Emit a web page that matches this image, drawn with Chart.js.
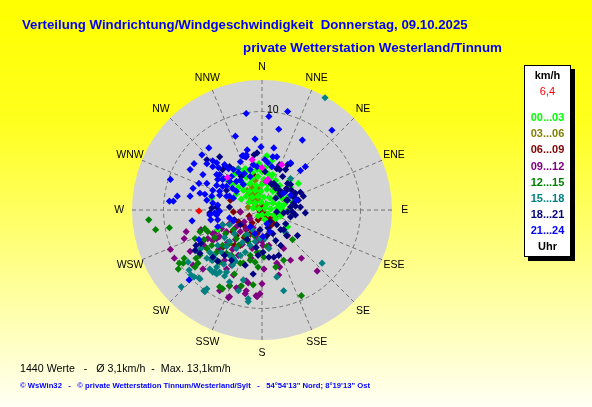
<!DOCTYPE html>
<html><head><meta charset="utf-8">
<script src="https://cdn.jsdelivr.net/npm/chart.js@4.4.1/dist/chart.umd.min.js"></script>
<style>html,body{margin:0;padding:0;background:#ffff00;overflow:hidden}canvas{display:block}</style>
</head><body>
<canvas id="c" width="592" height="407"></canvas>
<script>
// ---------- data ----------
const directions = ['N','NNE','NE','ENE','E','ESE','SE','SSE','S','SSW','SW','WSW','W','WNW','NW','NNW'];
const ringTicks = [10];
const scaleMax = 13.2;          // km/h at the outer circle
const timeBins = ['00...03','03...06','06...09','09...12','12...15','15...18','18...21','21...24'];
const currentSpeedLabel = '6,4';
const titleLine1 = 'Verteilung Windrichtung/Windgeschwindigkeit  Donnerstag, 09.10.2025';
const titleLine2 = 'private Wetterstation Westerland/Tinnum';
const statsLine = '1440 Werte   -   \u00D8 3,1km/h  -  Max. 13,1km/h';
const footerLine = '\u00A9 WsWin32   -   \u00A9 private Wetterstation Tinnum/Westerland/Sylt   -   54\u00B054\'13" Nord; 8\u00B019\'13" Ost';

// wind vectors [east, north] in km/h, per 3-hour bin
const s0003 = [[0.5,5.5],[0.4,5.4],[0.3,4.3],[-1.7,4.2],[-1.9,3.9],[-2.2,3.0],[-3.6,3.1],[-5.1,1.2],[2.0,0.2],[2.7,0.0],[3.7,2.7],[1.7,-0.2],[1.4,-0.9],[2.6,-1.7],[-4.5,-2.0],
[-1.5,4.0],[-1.0,3.8],[-0.5,4.1],[0.0,3.9],[0.6,3.7],[1.1,3.6],[-1.6,3.3],[-1.0,3.2],[-0.4,3.4],[0.2,3.1],[0.8,3.2],[1.4,3.0],[-1.8,2.6],[-1.2,2.7],[-0.6,2.5],[0.0,2.6],[0.6,2.6],[1.2,2.4],[1.8,2.5],[-1.9,2.0],[-1.3,1.9],[-0.7,2.0],[-0.1,1.9],[0.5,2.1],[1.1,1.9],[1.7,1.8],[2.3,1.9],[-1.6,1.4],[-1.0,1.3],[-0.4,1.4],[0.2,1.3],[0.8,1.2],[1.4,1.3],[2.0,1.2],[2.6,1.3],[-1.3,0.8],[-0.7,0.7],[-0.1,0.8],[0.5,0.6],[1.1,0.7],[1.7,0.6],[2.3,0.6],[-0.9,0.2],[-0.3,0.1],[0.3,0.2],[0.9,0.1],[1.5,0.2],[0.0,-0.5],[0.6,-0.4],[1.2,-0.5],[-0.4,-0.6],[1.9,-0.6],[-2.4,2.3],[-2.6,1.6],[-2.8,3.6],[2.8,3.0],[0.9,4.4],[-0.3,4.7],[3.1,0.8],[2.9,2.3],[-2.1,1.1],[0.3,-1.0],[-3.0,2.6],[1.0,5.0],[-0.8,4.6]];
const s0306 = [[-0.9,1.4],[-1.2,2.6],[-1.0,2.2],[-0.8,1.8],[-0.6,2.4],[-0.4,1.6],[-1.3,1.6],[-0.5,1.1],[-0.2,0.9],[-0.9,0.8],[0.0,0.5],[-0.6,0.4],[0.2,-0.2],[-1.5,2.0],[-0.3,2.1],[0.1,2.8],[-0.7,3.0],[-1.1,1.1],[-0.4,0.1],[-1.4,0.3]];
const s0609 = [[-0.9,3.6],[-2.9,-0.2],[-2.2,-0.2],[-0.2,-0.2],[-0.4,-1.0],[1.3,-0.7],[1.2,-1.2],[-2.4,-1.2],[-1.6,-2.0],[-3.2,1.0],[-2.2,-3.6],[0.8,-0.9],[0.3,-0.5],[-3.4,-3.4],[-2.8,-3.6],[-1.0,-1.3],[-0.5,-2.4],[-1.8,-2.8],[-2.6,-2.6],[0.9,-1.6],[-1.3,-0.6],[0.0,0.2],[0.5,-1.0],[-0.3,-0.8],[-1.9,-1.5],[-3.0,-2.2],[-1.2,-2.4],[-4.1,-3.9]];
const s0912 = [[-7.7,-2.2],[-9.3,-4.0],[-8.9,-4.9],[-7.3,-4.2],[-7.0,-5.6],[-6.0,-6.0],[-6.2,-2.0],[-5.0,-3.1],[-4.6,-2.9],[-4.1,-1.9],[-3.6,-2.2],[-4.6,-2.2],[-3.3,-7.7],[-2.2,-7.8],[-1.6,-7.2],[-2.2,-0.2],[-1.7,-8.5],[-0.6,-8.7],[-3.1,-5.6],[-3.8,-5.1],[-1.2,-0.9],[0.0,-3.2],[-0.5,-2.9],[-1.1,-4.9],[-7.9,-2.9],[4.0,-4.9],[5.6,-6.2],[2.9,-5.1],[1.8,-5.8],[1.7,-6.6],[1.5,-5.4],[0.2,-6.0],[-0.5,-8.8],[-3.4,-8.9],[2.6,-2.6],[2.2,-3.9],[0.7,-3.6],[-6.0,-3.2],[-5.5,-2.9],[-5.0,-2.4],[-4.3,-2.7],[-4.0,-1.5],[-3.3,-1.4],[-2.2,-2.2],[-1.6,-1.9],[-0.5,-3.2],[0.1,-3.6],[-3.6,-6.0],[-2.9,-6.6],[-1.4,-7.4],[-0.2,-8.5],[-2.6,-7.9],[-4.3,-8.2],[-3.3,-8.8],[-1.6,-8.2],[0.0,-7.5],[-5.8,-3.7],[-2.7,-3.0],[-2.0,-3.5],[-1.5,-2.6],[-3.0,-4.0],[-2.4,-4.6],[-1.8,-1.2],[-2.6,-1.7],[-3.5,-3.3],[-0.9,-1.8],[-4.4,-4.0],[-1.0,-3.9]];
const s1215 = [[-11.5,-1.0],[-10.8,-2.0],[-9.4,-1.8],[-8.5,-6.0],[-8.0,-5.4],[-7.9,-4.9],[-8.4,-5.4],[-6.7,-4.9],[-6.8,-5.8],[-6.5,-5.4],[-6.3,-4.6],[-6.3,-2.2],[-5.8,-1.9],[-5.5,-2.2],[-6.8,-2.9],[-5.6,-3.9],[-5.1,-3.6],[-4.3,-7.8],[-4.0,-8.0],[-3.3,-7.7],[-2.8,-6.5],[-0.9,-7.6],[-0.5,-4.3],[-0.2,-4.4],[-2.2,-5.4],[-4.6,-4.3],[-4.0,-3.6],[-4.3,-5.3],[-5.0,-5.1],[-3.3,-3.4],[-2.6,-2.9],[-1.7,-2.6],[-3.1,-4.6],[-1.2,-4.6],[-0.7,-5.3],[3.1,-3.0],[4.0,-8.7],[0.5,-3.7],[1.4,-5.8],[2.2,-5.1],[0.2,-4.8],[-2.1,-7.7],[-1.9,-5.4],[-1.2,-5.1],[-0.4,-5.8],[-3.7,-2.4],[-2.9,-2.0],[-4.8,-2.8],[-5.9,-3.0],[-3.6,-4.4],[-2.4,-3.6],[-1.4,-3.2],[-0.8,-2.6]];
const s1518 = [[-8.2,-7.8],[-7.2,-6.6],[-7.4,-6.1],[-6.3,-7.0],[-5.8,-8.3],[-5.3,-6.0],[-5.0,-6.3],[-4.6,-6.5],[-4.3,-6.3],[-3.8,-6.7],[-3.6,-6.3],[-5.6,-4.9],[-5.1,-5.1],[-4.6,-5.1],[-5.3,-4.3],[-7.5,-5.3],[-6.7,-4.1],[-6.2,-3.9],[-1.9,-7.1],[-1.4,-9.3],[-1.4,-9.0],[-3.3,-3.2],[-3.6,-3.7],[-4.1,-4.3],[-3.3,-4.6],[-2.6,-3.9],[-2.9,-4.9],[-2.2,-4.6],[-1.7,-4.3],[-1.2,-3.6],[-0.7,-3.2],[-0.2,-2.9],[-4.0,-1.5],[-3.3,-1.5],[6.1,-5.4],[2.2,-8.2],[-5.9,-8.2],[1.5,-6.8],[0.3,-2.9],[0.7,-3.9],[2.4,-2.3],[6.4,11.4],[2.9,3.2],[-2.4,4.2],[-5.6,-8.0],[-6.9,-6.8],[-6.4,-6.9],[-3.3,-7.3],[-2.4,-8.2],[-4.8,-6.3],[-4.6,-5.8],[-3.9,-5.5],[-2.7,-5.2],[-2.0,-3.3],[-1.5,-2.5],[-1.0,-2.0],[-4.5,-3.6],[-3.8,-2.8],[-2.8,-2.4],[-4.9,-4.6],[-3.0,-5.6]];
const s1821 = [[2.1,3.4],[2.6,2.7],[2.9,2.6],[3.4,1.7],[3.9,1.8],[3.1,1.4],[3.4,1.2],[2.4,1.9],[1.9,1.5],[3.4,0.4],[2.6,1.0],[1.4,2.2],[1.0,2.6],[0.7,2.9],[1.4,1.2],[0.3,3.9],[-0.5,5.8],[-1.6,5.4],[2.9,4.7],[2.4,4.1],[1.8,4.1],[1.5,4.2],[-3.3,4.4],[-4.0,4.1],[-2.1,3.4],[1.2,2.7],[1.5,2.4],[1.8,2.0],[2.5,2.2],[3.0,2.0],[4.2,1.4],[1.8,4.6],[2.6,4.6],[1.8,1.7],[2.5,1.0],[3.2,0.7],[3.9,0.3],[4.4,-0.3],[1.5,-0.2],[2.2,-0.3],[2.9,-0.7],[0.8,-1.2],[1.5,-1.5],[2.2,-2.0],[2.5,-2.6],[-0.2,-2.0],[0.5,-2.6],[-2.8,-1.0],[-2.2,-1.5],[-4.6,0.3],[-5.3,-0.3],[-3.3,0.3],[-3.6,2.0],[-5.6,5.1],[-4.3,5.4],[2.6,-0.2],[3.1,-0.2],[3.4,-0.5],[3.6,-2.6],[2.4,-1.4],[1.9,-2.0],[0.7,-4.8],[1.2,-4.8],[1.7,-4.6],[1.4,-3.1],[1.9,-3.6],[-5.1,0.2],[-4.4,-0.2],[-6.8,-4.1],[-6.3,-4.4],[-5.0,-4.8],[-4.5,-5.2],[-3.8,-4.6],[-3.1,-5.1],[-0.9,-6.5],[-1.7,-5.6],[-0.4,-4.6],[0.1,-4.3],[-6.7,-3.6],[-6.2,-3.4],[-1.9,5.5],[-0.8,5.6],[-3.7,4.4],[3.7,1.0],[2.9,0.3],[0.6,-1.8],[1.1,-2.4],[-1.5,-3.0],[-0.6,-3.8]];
const s2124 = [[-1.6,9.8],[2.6,10.0],[0.7,9.5],[1.7,8.2],[7.1,8.1],[4.1,7.1],[-0.7,7.2],[-2.7,7.5],[-5.4,6.3],[-6.1,5.6],[1.2,6.3],[-0.1,6.4],[-1.5,6.1],[4.4,4.4],[-6.9,4.7],[-5.6,4.7],[-5.0,4.4],[-7.3,4.1],[-9.3,3.1],[-6.4,2.7],[-5.6,2.7],[-8.6,1.4],[-7.3,1.4],[-6.3,1.7],[-9.4,0.9],[-9.0,0.9],[-4.4,4.3],[-4.0,3.1],[-4.6,2.5],[-3.6,2.4],[-4.3,1.9],[-2.2,4.9],[0.3,5.1],[-1.7,5.4],[-2.9,4.1],[-0.5,4.4],[-5.1,1.4],[-3.3,1.4],[-2.6,1.9],[-1.9,2.6],[-1.2,3.4],[-4.6,3.6],[-4.3,3.6],[-3.9,3.2],[-3.1,3.4],[-2.6,2.9],[-4.3,1.5],[-3.6,1.4],[-2.9,1.2],[-5.0,0.7],[-4.5,0.5],[-5.6,1.0],[-2.0,5.5],[-1.6,5.6],[-0.9,4.6],[-1.2,4.1],[0.6,4.8],[1.0,4.4],[1.5,5.4],[3.9,4.0],[2.2,1.7],[2.9,1.5],[3.5,1.0],[0.5,-1.4],[0.8,-2.2],[0.1,-2.7],[-1.2,-1.7],[-0.7,-2.4],[-7.1,-1.1],[-5.2,-1.0],[-4.8,-0.3],[-4.3,-0.1],[-3.3,-0.8],[-2.9,-1.1],[-7.4,-7.1],[-6.4,-3.0],[-4.5,-1.7],[2.9,4.8],[1.1,5.4],[-4.5,3.1],[-3.3,2.9],[-5.3,-0.5],[-4.6,-0.5],[-4.5,-1.0],[-5.0,5.0],[-4.6,4.8],[-3.8,4.6],[-3.4,4.2],[-2.4,3.8],[-1.8,3.7],[-2.2,3.0],[-3.0,2.2],[-4.0,2.4],[-5.0,2.0],[-5.8,1.6],[-7.0,2.2],[-6.0,3.6]];
const markedPoints = [[-1.0,5.1],[0.0,4.3],[2.0,4.6],[-3.5,3.3],[0.4,2.9],[0.6,3.1]];
const currentWind = [[-6.4,-0.1]];

// ---------- styles ----------
const binColors = ['#00ff00','#808000','#800000','#800080','#008000','#008080','#000080','#0000ff'];
const drawOrder = [15, 19, 18, 17, 16, 14, 13, 12];   // higher = drawn earlier
const FONT = '"Liberation Sans", Arial, sans-serif';

const toXY = arr => arr.map(p => ({x: p[0], y: p[1]}));
const series = [s0003, s0306, s0609, s0912, s1215, s1518, s1821, s2124];

const datasets = series.map((s, i) => ({
  label: timeBins[i], data: toXY(s), backgroundColor: binColors[i],
  pointStyle: 'rectRot', pointRadius: 3.6, pointBorderWidth: 0, borderWidth: 0,
  order: drawOrder[i]
}));
datasets.push({label:'marked', data: toXY(markedPoints), backgroundColor:'#ff00ff', pointStyle:'rectRot', pointRadius:3.6, borderWidth:0, order: 2});
datasets.push({label:'current', data: toXY(currentWind), backgroundColor:'#ff0000', pointStyle:'rectRot', pointRadius:3.6, borderWidth:0, order: 1});

function fitText(ctx, text, x, y, width, weight, color, align) {
  ctx.font = weight + ' 20px ' + FONT;
  const w = ctx.measureText(text).width;
  const size = 20 * width / w;
  ctx.font = weight + ' ' + size.toFixed(2) + 'px ' + FONT;
  ctx.fillStyle = color; ctx.textAlign = align || 'left'; ctx.textBaseline = 'middle';
  ctx.fillText(text, x, y);
}

const rosePlugin = {
  id: 'rose',
  beforeDraw(chart) {
    const ctx = chart.ctx;
    const g = ctx.createLinearGradient(0, 0, 0, chart.height);
    g.addColorStop(0, '#ffff00');
    g.addColorStop(0.3, '#ffff1e');
    g.addColorStop(1, '#fffff4');
    ctx.save(); ctx.fillStyle = g; ctx.fillRect(0, 0, chart.width, chart.height); ctx.restore();
  },
  beforeDatasetsDraw(chart) {
    const ctx = chart.ctx, xs = chart.scales.x, ys = chart.scales.y;
    const cx = xs.getPixelForValue(0), cy = ys.getPixelForValue(0);
    const rOut = xs.getPixelForValue(scaleMax) - cx;
    ctx.save();
    ctx.fillStyle = '#d4d4d4';
    ctx.beginPath(); ctx.arc(cx, cy, rOut, 0, Math.PI * 2); ctx.fill();
    ctx.strokeStyle = '#737373'; ctx.lineWidth = 1; ctx.setLineDash([4, 3]);
    directions.forEach((d, i) => {
      const a = i * Math.PI / 8;
      ctx.beginPath();
      ctx.moveTo(cx, cy);
      ctx.lineTo(xs.getPixelForValue(scaleMax * Math.sin(a)), ys.getPixelForValue(scaleMax * Math.cos(a)));
      ctx.stroke();
    });
    ringTicks.forEach(t => {
      const r = xs.getPixelForValue(t) - cx;
      ctx.beginPath(); ctx.arc(cx, cy, r, 0, Math.PI * 2); ctx.stroke();
    });
    ctx.restore();
  },
  afterDatasetsDraw(chart) {
    const ctx = chart.ctx, xs = chart.scales.x, ys = chart.scales.y;
    const cx = xs.getPixelForValue(0), cy = ys.getPixelForValue(0);
    ctx.save();
    // compass labels
    ctx.fillStyle = '#000'; ctx.font = '10.5px ' + FONT; ctx.textAlign = 'center'; ctx.textBaseline = 'middle';
    const rl = 14.5;
    directions.forEach((d, i) => {
      const a = i * Math.PI / 8;
      ctx.fillText(d, xs.getPixelForValue(rl * Math.sin(a)), ys.getPixelForValue(rl * Math.cos(a)));
    });
    // ring labels
    ctx.textAlign = 'left';
    ringTicks.forEach(t => { ctx.fillText(String(t), cx + 5, ys.getPixelForValue(t) - 1); });
    // titles
    fitText(ctx, titleLine1, 22, 25, 446, 'bold', '#0000ff');
    fitText(ctx, titleLine2, 243, 48, 259, 'bold', '#0000ff');
    fitText(ctx, statsLine, 20, 369, 211, 'normal', '#000000');
    fitText(ctx, footerLine, 20, 386, 350, 'bold', '#0000ff');
    // legend box
    const bx = 524, by = 65, bw = 47, bh = 192;
    ctx.fillStyle = '#000'; ctx.fillRect(bx + 4, by + 4, bw, bh);
    ctx.fillStyle = '#fff'; ctx.fillRect(bx, by, bw, bh);
    ctx.strokeStyle = '#000'; ctx.lineWidth = 1; ctx.strokeRect(bx + 0.5, by + 0.5, bw - 1, bh - 1);
    const lx = bx + bw / 2;
    ctx.textAlign = 'center'; ctx.textBaseline = 'middle';
    ctx.font = 'bold 11px ' + FONT; ctx.fillStyle = '#000'; ctx.fillText('km/h', lx, 76);
    ctx.font = '11px ' + FONT; ctx.fillStyle = '#ff0000'; ctx.fillText(currentSpeedLabel, lx, 92);
    ctx.font = 'bold 11px ' + FONT;
    timeBins.forEach((t, i) => { ctx.fillStyle = binColors[i]; ctx.fillText(t, lx, 118 + i * 16.2); });
    ctx.fillStyle = '#000'; ctx.fillText('Uhr', lx, 247);
    ctx.restore();
  }
};

new Chart(document.getElementById('c'), {
  type: 'scatter',
  data: { datasets },
  options: {
    responsive: false, animation: false, devicePixelRatio: 1,
    layout: { padding: { left: 132, right: 200, top: 80, bottom: 67 } },
    scales: {
      x: { type: 'linear', min: -scaleMax, max: scaleMax, display: false },
      y: { type: 'linear', min: -scaleMax, max: scaleMax, display: false }
    },
    plugins: { legend: { display: false }, tooltip: { enabled: false }, title: { display: false } },
    events: []
  },
  plugins: [rosePlugin]
});
</script>
</body></html>
